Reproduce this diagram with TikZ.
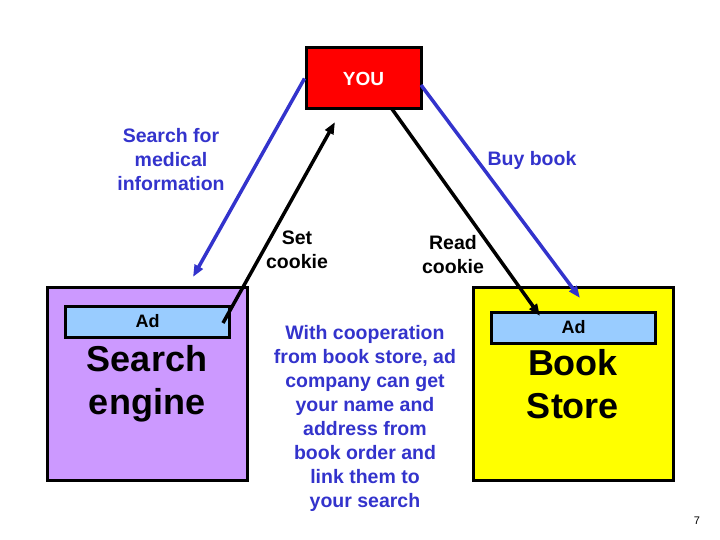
\documentclass[tikz,border=0pt]{standalone}
\usepackage{fontspec}
\setmainfont{Liberation Sans}
\usetikzlibrary{positioning,arrows.meta}
\definecolor{youred}{RGB}{255,0,0}
\definecolor{sepurple}{RGB}{204,153,255}
\definecolor{bsyellow}{RGB}{255,255,0}
\definecolor{adblue}{RGB}{153,204,255}
\definecolor{linkblue}{RGB}{51,51,204}

\tikzset{
  site/.style={draw=black,line width=3pt,minimum width=200pt,minimum height=193pt,
    align=center,font=\bfseries\fontsize{36}{43}\selectfont},
  adbox/.style={draw=black,line width=3pt,fill=adblue,minimum width=164pt,minimum height=31pt,
    inner sep=0pt,font=\bfseries\fontsize{18}{21}\selectfont},
  lbl/.style={align=center,inner sep=0pt,font=\bfseries\fontsize{19.5}{24}\selectfont},
  bluelink/.style={linkblue,line width=3.5pt,-{Triangle[length=12pt,width=9pt]}},
  blacklink/.style={black,line width=3.5pt,-{Triangle[length=12pt,width=9pt]}}
}

\begin{document}
\begin{tikzpicture}[x=1pt,y=-1pt]
  \useasboundingbox (0,0) rectangle (720,540);

  % the user at the top
  \node[draw=black,line width=3pt,fill=youred,minimum width=115pt,minimum height=61pt,
    text=white,font=\bfseries\fontsize{19}{22}\selectfont] (you) at (363.5,78.5) {YOU};

  % the two sites, each with an ad banner
  \node[site,fill=sepurple] (engine) at (147,384) {Search\\engine};
  \node[adbox] (adL) at (147.5,321.5) {Ad};
  \node[site,fill=bsyellow] (store) at (573,384) {Book\\Store};
  \node[adbox] (adR) at (573.5,327.5) {Ad};

  % free ends of the connectors
  \coordinate (engineTip) at (193,277);
  \coordinate (storeTip) at (580,298);
  \coordinate (youLow) at (421,85);
  \coordinate (setStart) at (223,323);
  \coordinate (setTip) at (335,122);
  \coordinate (readStart) at (392,109);
  \coordinate (readTip) at (540,316);

  % browsing (blue) and cookies (black)
  \draw[bluelink] (you.west) -- (engineTip);
  \draw[bluelink] (youLow) -- (storeTip);
  \draw[blacklink] (setStart) -- (setTip);
  \draw[blacklink] (readStart) -- (readTip);

  % labels
  \node[lbl,text=linkblue] (search) at (171,160) {Search for\\medical\\information};
  \node[lbl,text=linkblue] (buy) at (532,160) {Buy book};
  \node[lbl] (setc) at (297,250) {Set\\cookie};
  \node[lbl] (readc) at (453,255) {Read\\cookie};
  \node[lbl,text=linkblue] (coop) at (365,418) {With cooperation\\from book store, ad\\company can get\\your name and\\address from\\book order and\\link them to\\your search};

  \node[font=\fontsize{11}{13}\selectfont] (page) at (697,521) {7};
\end{tikzpicture}
\end{document}
